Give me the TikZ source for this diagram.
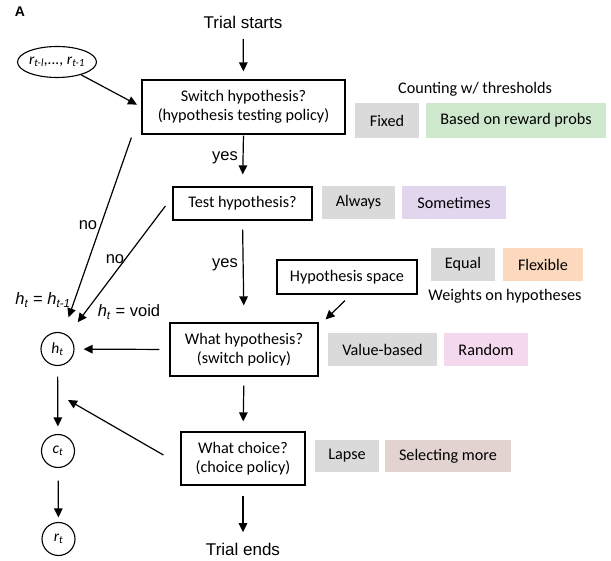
\documentclass[tikz,border=0pt]{standalone}
\usepackage{fontspec}
\setmainfont{Carlito}
\newfontfamily\arial{Liberation Sans}
\usetikzlibrary{arrows.meta,shapes.geometric,calc}
\definecolor{cgray}{RGB}{218,218,218}
\definecolor{cgreen}{RGB}{206,232,206}
\definecolor{cpurple}{RGB}{226,214,238}
\definecolor{corange}{RGB}{252,217,190}
\definecolor{cpink}{RGB}{244,216,238}
\definecolor{cbrown}{RGB}{226,211,209}
\begin{document}
\begin{tikzpicture}[x=1pt,y=-1pt,line width=1.2pt,
  >={Triangle[length=9pt,width=8.5pt]},
  box/.style={draw,line width=1.2pt,align=center,inner sep=0pt,font=\fontsize{16.2}{19}\selectfont},
  tag/.style={fill=#1,inner sep=0pt,align=center,font=\fontsize{16.2}{19}\selectfont},
  circ/.style={draw,circle,line width=1.1pt,minimum size=33pt,inner sep=0pt,font=\fontsize{15.5}{17}\selectfont\itshape},
  lbl/.style={inner sep=0pt,font=\arial\fontsize{16.5}{19}\selectfont},
  plain/.style={inner sep=0pt,font=\fontsize{16.2}{19}\selectfont}]
\useasboundingbox (0,0) rectangle (611,561);

\node[inner sep=0pt,font=\arial\bfseries\fontsize{14}{16}\selectfont] (lA) at (20,12) {A};

% main flow
\node[lbl,font=\arial\fontsize{17}{19}\selectfont] (ts) at (243,22) {Trial starts};
\node[box,minimum width=203pt,minimum height=54pt] (b1) at (243.5,107) {Switch hypothesis?\\(hypothesis testing policy)};
\node[box,minimum width=139pt,minimum height=33pt] (b2) at (242.5,203.5) {Test hypothesis?};
\node[box,minimum width=140pt,minimum height=34pt] (hs) at (347,277) {Hypothesis space};
\node[box,minimum width=148pt,minimum height=53pt] (b3) at (244,349.5) {What hypothesis?\\(switch policy)};
\node[box,minimum width=124pt,minimum height=53pt] (b4) at (243,458.5) {What choice?\\(choice policy)};
\node[lbl,font=\arial\fontsize{17}{19}\selectfont] (te) at (243,549) {Trial ends};

% left column
\node[draw,ellipse,line width=1.1pt,minimum width=75pt,minimum height=31pt,inner sep=0pt,font=\fontsize{15.5}{17}\selectfont\itshape] (ell) at (57,62) {r\textsubscript{t-l},..., r\textsubscript{t-1}};
\node[circ] (ht) at (57.5,349) {h\textsubscript{t}};
\node[circ] (ct) at (58,451) {c\textsubscript{t}};
\node[circ] (rt) at (58.5,539) {r\textsubscript{t}};

% option tags
\node[plain] (cnt) at (475,89) {Counting w/ thresholds};
\node[tag=cgray,minimum width=64pt,minimum height=35pt] (fx) at (387,120.5) {Fixed};
\node[tag=cgreen,minimum width=180pt,minimum height=35pt] (brp) at (516,120.5) {Based on reward probs};
\node[tag=cgray,minimum width=73pt,minimum height=33pt] (alw) at (358.5,202.5) {Always};
\node[tag=cpurple,minimum width=104pt,minimum height=33pt] (smt) at (454,202.5) {Sometimes};
\node[tag=cgray,minimum width=64pt,minimum height=33pt] (eq) at (463,264.5) {Equal};
\node[tag=corange,minimum width=80pt,minimum height=33pt] (flx) at (543,264.5) {Flexible};
\node[plain] (wts) at (505,296) {Weights on hypotheses};
\node[tag=cgray,minimum width=109pt,minimum height=33pt] (vb) at (382.5,349.5) {Value-based};
\node[tag=cpink,minimum width=84pt,minimum height=33pt] (rnd) at (486,349.5) {Random};
\node[tag=cgray,minimum width=64pt,minimum height=32pt] (lps) at (347,456) {Lapse};
\node[tag=cbrown,minimum width=126pt,minimum height=32pt] (slm) at (448,456) {Selecting more};

% labels
\node[lbl] (y1) at (225,158) {yes};
\node[lbl] (y2) at (225,265) {yes};
\node[lbl] (n1) at (88,225) {no};
\node[lbl] (n2) at (115,259) {no};
\node[lbl] (eq1) at (43,300) {\textit{h}\textsubscript{\textit{t}} = \textit{h}\textsubscript{\textit{t-1}}};
\node[lbl] (eq2) at (129,312) {\textit{h}\textsubscript{\textit{t}} = void};

% coordinates for free ends
\coordinate (n1s) at ($(b1.south west)+(-10,3)$);
\coordinate (n2s) at ($(b2.west)+(-7,2.5)$);
\coordinate (hss) at ($(hs.south)+(-2,6)$);
\coordinate (hse) at ($(b3.north east)+(7,-3)$);
\coordinate (fb) at (68,400);
\coordinate (b4w) at ($(b4.west)+(-17,-3.5)$);

% connectors
\draw[->,shorten <=10pt,shorten >=8pt] (ts) -- (b1.north);
\draw[->,shorten >=5pt] (ell) -- (b1.west);
\draw[->,shorten <=1pt,shorten >=12pt] (b1.south) -- (b2.north);
\draw[->,shorten <=9pt,shorten >=17pt] (b2.south) -- (b3.north);
\draw[->] (hss) -- (hse);
\draw[->,shorten <=10pt,shorten >=9pt] (b3.west) -- (ht);
\draw[->,shorten <=9pt,shorten >=10pt] (b3.south) -- (b4.north);
\draw[->,shorten <=10pt,shorten >=10pt] (b4.south) -- (te);
\draw[->] (b4w) -- (fb);
\draw[->,shorten <=10.5pt,shorten >=7.5pt] (ht) -- (ct);
\draw[->,shorten <=12.5pt,shorten >=4.5pt] (ct) -- (rt);
\draw[->,shorten >=16.5pt] (n1s) -- (ht);
\draw[->,shorten >=16.5pt] (n2s) -- (ht);
\end{tikzpicture}
\end{document}
